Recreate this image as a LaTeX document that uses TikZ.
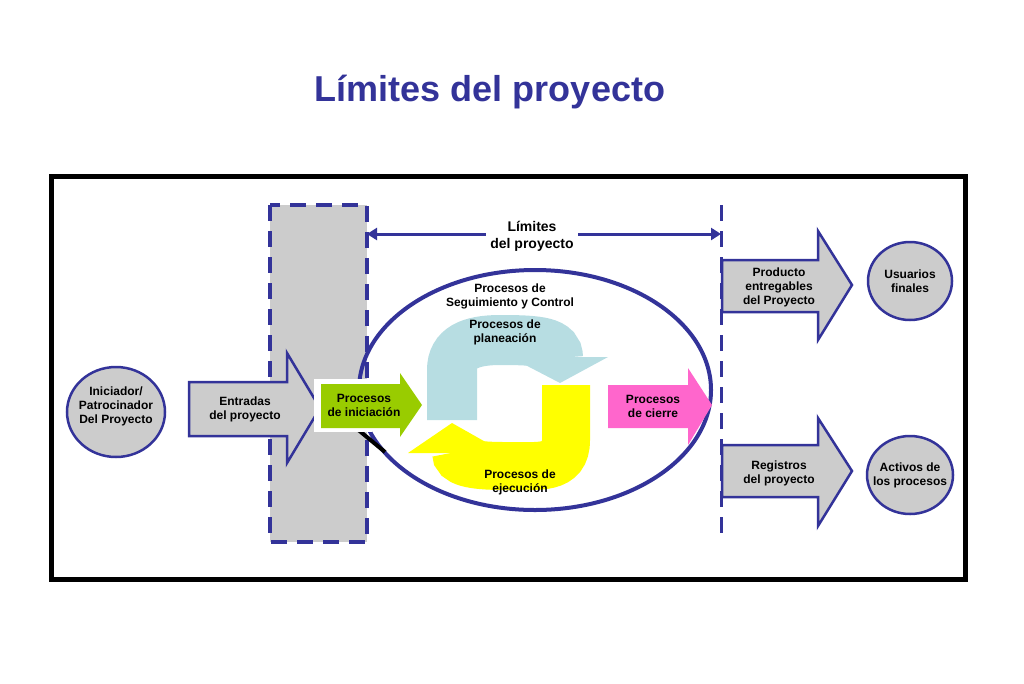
\documentclass[tikz,border=0pt]{standalone}
\usepackage{fontspec}
\setmainfont{Liberation Sans}
\usetikzlibrary{arrows.meta}
\definecolor{pblue}{RGB}{51,51,153}
\definecolor{pgray}{RGB}{204,204,204}
\definecolor{pgreen}{RGB}{153,204,0}
\definecolor{plblue}{RGB}{183,221,226}
\definecolor{pyellow}{RGB}{255,255,0}
\definecolor{ppink}{RGB}{255,102,204}
\begin{document}
\begin{tikzpicture}[x=1pt,y=-1pt,
  lbl/.style={font=\bfseries\fontsize{12}{14}\selectfont,align=center,inner sep=1pt},
  bigarrow/.style={draw=pblue,line width=2.5pt,fill=pgray,line join=miter},
  endcirc/.style={draw=pblue,line width=2.5pt,fill=pgray}]
\useasboundingbox (0,0) rectangle (1024,683);
\node[font=\bfseries\fontsize{36}{42}\selectfont,text=pblue] (title) at (490,92) {Límites del proyecto};
\draw[line width=5pt] (51,176) rectangle (965,579);
% gray band
\fill[pgray] (270,205) rectangle (367,542);
\draw[pblue,line width=4pt,dash pattern=on 16pt off 10pt] (270,205) rectangle (367,542);
\draw[pblue,line width=3pt,dash pattern=on 16pt off 10pt] (721,205) -- (721,540);
\coordinate (bl) at (367,234); \coordinate (br) at (721,234);
\draw[pblue,line width=3pt,{Triangle[length=10pt,width=12pt]}-{Triangle[length=10pt,width=12pt]}] (bl) -- (br);
\node[lbl,fill=white,font=\bfseries\fontsize{14}{17}\selectfont,inner sep=4pt] (lim) at (532,236) {Límites\\del proyecto};
% big ellipse
\draw[pblue,line width=4pt] (535,390) ellipse [x radius=176, y radius=120];
\draw[line width=4pt] (356,428) -- (385,452);
% initiator
\draw[endcirc] (116,412) ellipse [x radius=49, y radius=45];
\node[lbl] (ini) at (116,406) {Iniciador/\\Patrocinador\\Del Proyecto};
% entradas arrow
\draw[bigarrow] (189,382) -- (287,382) -- (287,353) -- (320,408) -- (287,463) -- (287,436) -- (189,436) -- cycle;
\node[lbl] (ent) at (245,409) {Entradas\\del proyecto};
% iniciacion
\fill[white] (314,379) rectangle (372,432);
\fill[pgreen] (321,384) -- (400,384) -- (400,373) -- (422,405) -- (400,437) -- (400,428) -- (321,428) -- cycle;
\node[lbl] (pi) at (364,405) {Procesos\\de iniciación};
% light blue loop
\draw[plblue,line width=50pt] (452,420) -- (452,370) .. controls (452,348) and (470,340) .. (500,340) .. controls (540,340) and (558,342) .. (558,358);
\fill[plblue] (510,357) -- (608,357) -- (560,383) -- cycle;
% yellow loop
\draw[pyellow,line width=48pt] (566,385) -- (566,440) .. controls (566,470) and (540,466) .. (505,466) .. controls (470,466) and (456,462) .. (456,452);
\fill[pyellow] (408,453) -- (452,423) -- (505,453) -- cycle;
\node[lbl] (seg) at (510,296) {Procesos de\\Seguimiento y Control};
\node[lbl] (plan) at (505,332) {Procesos de\\planeación};
\node[lbl] (ejec) at (520,482) {Procesos de\\ejecución};
% cierre
\fill[ppink] (608,385) -- (688,385) -- (688,368) -- (712,405) -- (688,445) -- (688,428) -- (608,428) -- cycle;
\node[lbl] (cie) at (653,406) {Procesos\\de cierre};
% outputs
\draw[bigarrow] (722,260) -- (818,260) -- (818,231) -- (852,285) -- (818,340) -- (818,312) -- (722,312) -- cycle;
\node[lbl] (prod) at (779,287) {Producto\\entregables\\del Proyecto};
\draw[bigarrow] (722,445) -- (818,445) -- (818,418) -- (852,471) -- (818,526) -- (818,497) -- (722,497) -- cycle;
\node[lbl] (reg) at (779,473) {Registros\\del proyecto};
\draw[endcirc] (910,281) ellipse [x radius=42, y radius=39];
\node[lbl] (usu) at (910,281) {Usuarios\\finales};
\draw[endcirc] (910,475) ellipse [x radius=43, y radius=39];
\node[lbl] (act) at (910,475) {Activos de\\los procesos};
\end{tikzpicture}
\end{document}
